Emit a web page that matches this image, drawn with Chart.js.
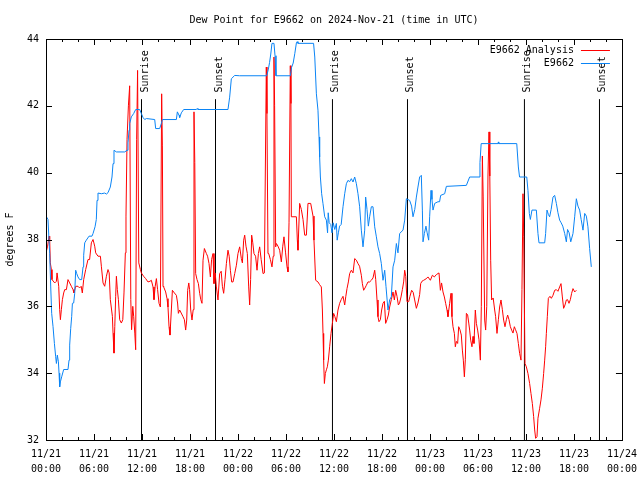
<!DOCTYPE html>
<html>
<head>
<meta charset="utf-8">
<title>Dew Point for E9662</title>
<script src="https://cdn.jsdelivr.net/npm/chart.js@4.4.1/dist/chart.umd.min.js"></script>
<style>
  html, body { margin: 0; padding: 0; background: #fff; }
  #wrap { width: 640px; height: 480px; }
</style>
</head>
<body>
<div id="wrap"><canvas id="dewChart" width="640" height="480"></canvas></div>
<script>
// hours since 2024-11-21 00:00 UTC, dew point in degrees F
const analysisPoints = [
  [0.00,37.6],[0.2,37.8],[0.38,38.1],[0.46,38.0],[0.54,37.3],[0.67,37.1],[0.75,36.8],[1.09,36.7],[1.3,36.75],[1.38,37.0],
  [1.5,37.0],[1.59,36.6],[1.71,35.9],[1.8,35.6],[1.92,35.9],[2.05,36.2],[2.21,36.4],[2.34,36.5],[2.55,36.5],[2.75,36.8],
  [2.96,36.7],[3.17,36.6],[3.38,36.5],[3.5,36.4],[3.71,36.6],[4.0,36.6],[4.2,36.55],[4.4,36.6],[4.54,36.4],[4.71,36.8],
  [4.96,37.1],[5.25,37.4],[5.45,37.4],[5.67,37.9],[5.88,38.0],[6.09,37.8],[6.21,37.6],[6.5,37.5],[6.8,37.5],[6.92,37.2],
  [7.13,36.7],[7.34,36.6],[7.55,36.9],[7.75,37.1],[7.9,37.0],[8.04,36.2],[8.3,35.7],[8.38,35.2],[8.5,34.6],[8.6,35.4],
  [8.71,36.3],[8.8,36.9],[8.92,36.5],[9.05,36.2],[9.21,35.6],[9.42,35.5],[9.6,35.6],[9.75,36.4],[9.92,37.6],[10.0,38.7],
  [10.13,41.0],[10.3,42.0],[10.46,42.6],[10.6,36.2],[10.7,35.3],[10.85,36.0],[10.96,35.7],[11.1,35.2],[11.21,34.7],[11.33,41.0],
  [11.45,43.06],[11.6,37.3],[11.8,37.1],[11.92,37.0],[12.2,36.9],[12.46,36.83],[12.75,36.73],[13.0,36.75],[13.17,36.78],[13.38,36.58],
  [13.5,36.2],[13.65,36.6],[13.8,36.83],[13.95,36.5],[14.13,36.09],[14.3,35.98],[14.46,42.36],[14.55,40.8],[14.63,36.6],[14.71,36.58],
  [14.96,36.43],[15.13,36.23],[15.25,35.98],[15.38,35.39],[15.5,35.14],[15.67,35.89],[15.8,36.48],[16.05,36.4],[16.3,36.33],[16.45,36.1],
  [16.55,35.79],[16.71,35.89],[16.9,35.8],[17.13,35.69],[17.3,35.6],[17.46,35.29],[17.59,35.59],[17.71,36.48],[17.85,36.7],[17.95,36.5],
  [18.09,35.89],[18.25,35.59],[18.4,35.9],[18.5,41.82],[18.6,40.3],[18.71,36.98],[18.88,36.8],[19.05,36.68],[19.21,36.39],[19.35,36.2],
  [19.5,36.09],[19.63,37.38],[19.8,37.73],[20.05,37.58],[20.2,37.5],[20.38,37.28],[20.55,36.88],[20.7,37.4],[20.88,37.58],[21.0,36.68],
  [21.15,37.0],[21.3,36.58],[21.5,36.19],[21.71,36.98],[21.9,37.05],[22.05,36.6],[22.21,36.39],[22.38,36.8],[22.55,37.28],[22.75,37.68],
  [22.9,37.5],[23.05,37.08],[23.21,36.73],[23.38,36.73],[23.59,36.98],[23.8,37.23],[24.0,37.58],[24.21,37.78],[24.42,37.43],[24.55,37.3],
  [24.71,37.98],[24.84,38.13],[25.0,37.8],[25.17,37.58],[25.34,36.58],[25.46,36.04],[25.58,36.8],[25.71,38.13],[25.85,37.9],[26.0,37.58],
  [26.2,37.5],[26.38,37.08],[26.55,37.58],[26.71,37.78],[26.9,37.4],[27.13,36.98],[27.3,37.0],[27.54,43.16],[27.62,41.77],[27.75,37.58],
  [27.84,37.58],[28.05,37.4],[28.25,37.18],[28.4,37.5],[28.5,43.46],[28.58,42.0],[28.71,37.78],[28.8,37.88],[29.0,37.8],[29.21,37.68],
  [29.42,37.33],[29.6,37.8],[29.75,38.08],[29.95,37.6],[30.13,37.18],[30.25,37.03],[30.38,38.5],[30.54,43.2],[30.62,42.07],[30.67,38.68],
  [31.3,38.68],[31.42,37.98],[31.5,37.68],[31.71,39.08],[31.92,38.9],[32.13,38.6],[32.34,38.13],[32.55,38.13],[32.75,39.08],[33.09,39.08],
  [33.38,38.7],[33.5,37.98],[33.71,36.78],[34.0,36.73],[34.2,36.65],[34.42,36.58],[34.55,35.89],[34.63,35.19],[34.71,34.39],[34.8,33.69],
  [34.92,33.99],[35.05,34.1],[35.17,34.19],[35.3,34.39],[35.46,34.79],[35.63,35.19],[35.8,35.49],[35.96,35.79],[36.1,35.7],[36.3,35.54],
  [36.5,35.89],[36.71,36.09],[36.9,36.2],[37.13,36.3],[37.34,36.04],[37.48,36.3],[37.63,36.53],[37.8,36.73],[37.96,36.98],[38.17,37.08],
  [38.38,37.0],[38.59,37.43],[38.8,37.38],[39.0,37.28],[39.2,37.2],[39.42,36.93],[39.55,36.68],[39.71,36.48],[39.88,36.55],[40.05,36.63],
  [40.25,36.73],[40.46,36.73],[40.67,36.78],[40.88,36.85],[41.09,37.08],[41.22,36.8],[41.38,36.19],[41.5,35.69],[41.63,35.54],[41.8,35.6],
  [41.96,35.89],[42.13,36.09],[42.3,36.15],[42.46,35.49],[42.63,35.6],[42.8,35.74],[42.96,35.98],[43.17,36.2],[43.38,36.43],[43.55,36.19],
  [43.71,36.48],[43.88,36.3],[44.05,36.04],[44.2,36.1],[44.38,36.28],[44.55,36.5],[44.71,36.73],[44.84,37.08],[44.97,36.9],[45.13,36.14],
  [45.34,36.14],[45.5,36.3],[45.71,36.48],[45.9,36.42],[46.09,36.19],[46.3,35.94],[46.5,36.1],[46.71,36.35],[46.84,36.68],[47.0,36.75],
  [47.21,36.78],[47.5,36.82],[47.75,36.88],[48.05,36.78],[48.3,36.93],[48.55,36.88],[48.8,36.95],[49.13,37.0],[49.3,36.48],[49.45,36.7],
  [49.63,36.43],[49.8,36.28],[49.96,36.09],[50.13,35.89],[50.25,35.69],[50.46,36.09],[50.63,36.39],[50.75,35.69],[50.88,35.39],[51.05,35.19],
  [51.17,34.79],[51.3,34.95],[51.46,34.89],[51.59,35.39],[51.75,35.3],[51.92,35.14],[52.05,34.69],[52.17,34.39],[52.3,33.89],[52.42,34.4],
  [52.55,35.79],[52.71,35.74],[52.85,35.5],[52.96,35.29],[53.09,34.99],[53.25,34.79],[53.38,35.1],[53.5,34.89],[53.67,35.89],[53.8,35.49],
  [53.96,35.29],[54.13,35.0],[54.3,34.39],[54.42,36.0],[54.55,40.5],[54.65,39.3],[54.84,35.59],[54.96,35.29],[55.1,36.0],[55.25,39.9],
  [55.38,41.22],[55.48,39.9],[55.59,37.38],[55.71,36.19],[55.9,36.25],[56.09,35.89],[56.21,35.69],[56.38,35.19],[56.55,35.6],[56.71,35.98],
  [56.88,36.19],[57.05,35.9],[57.21,35.59],[57.38,35.39],[57.55,35.6],[57.71,35.74],[57.88,35.6],[58.05,35.39],[58.21,35.29],[58.38,35.2],
  [58.55,35.39],[58.7,35.3],[58.88,35.19],[59.05,34.89],[59.21,34.59],[59.38,34.39],[59.5,36.5],[59.63,39.37],[59.72,38.08],[59.88,34.29],
  [60.05,34.19],[60.25,33.99],[60.46,33.69],[60.63,33.39],[60.8,33.09],[60.96,32.7],[61.09,32.3],[61.21,32.05],[61.38,32.1],[61.5,32.65],
  [61.71,32.95],[61.88,33.2],[62.05,33.55],[62.21,33.99],[62.34,34.39],[62.46,34.79],[62.55,35.19],[62.67,35.69],[62.8,36.24],[63.0,36.3],
  [63.17,36.24],[63.38,36.33],[63.59,36.48],[63.8,36.5],[64.0,36.45],[64.21,36.58],[64.38,36.68],[64.55,36.28],[64.71,35.94],[64.88,36.04],
  [65.05,36.19],[65.2,36.2],[65.38,36.09],[65.55,36.2],[65.71,36.39],[65.88,36.53],[66.09,36.43],[66.3,36.48]
];

const stationPoints = [
  [0.0,38.7],[0.25,38.6],[0.46,37.58],[0.59,36.58],[0.71,35.79],[0.88,35.39],[1.05,34.89],[1.21,34.49],[1.3,34.29],[1.42,34.54],
  [1.55,34.34],[1.63,34.0],[1.71,33.59],[1.8,33.74],[1.96,33.89],[2.21,34.11],[2.75,34.11],[2.88,34.39],[2.96,34.84],[3.09,35.34],
  [3.21,35.69],[3.3,36.09],[3.46,36.1],[3.59,36.39],[3.71,37.08],[3.84,36.98],[4.0,36.88],[4.21,36.8],[4.46,36.8],[4.63,37.18],
  [4.71,37.53],[4.84,37.9],[5.04,37.98],[5.38,38.1],[5.75,38.1],[5.88,38.18],[6.13,38.38],[6.29,38.6],[6.38,39.17],[6.5,39.39],
  [6.92,39.37],[7.34,39.39],[7.55,39.36],[7.75,39.4],[8.04,39.57],[8.25,39.87],[8.38,40.27],[8.5,40.67],[8.8,40.62],[9.84,40.62],
  [10.13,40.67],[10.25,40.89],[10.38,41.27],[10.46,41.47],[10.67,41.67],[10.96,41.77],[11.21,41.89],[11.71,41.89],[11.92,41.77],[12.13,41.65],
  [12.34,41.59],[12.55,41.62],[13.59,41.59],[13.71,41.32],[14.21,41.32],[14.42,41.47],[14.55,41.59],[16.3,41.59],[16.42,41.82],[16.63,41.72],
  [16.71,41.65],[16.92,41.79],[17.21,41.89],[18.8,41.89],[18.9,41.92],[19.0,41.89],[22.75,41.89],[22.96,42.26],[23.17,42.81],[23.59,42.91],
  [24.2,42.9],[27.6,42.9],[27.8,43.1],[27.95,43.3],[28.1,43.55],[28.25,43.87],[28.5,43.87],[28.63,43.5],[28.75,42.9],[30.55,42.9],
  [30.7,43.15],[30.9,43.28],[31.1,43.56],[31.3,43.88],[31.4,43.92],[31.5,43.87],[33.45,43.87],[33.6,43.46],[33.8,42.36],[34.0,41.87],
  [34.13,41.07],[34.21,40.47],[34.3,39.87],[34.46,39.37],[34.63,39.07],[34.84,38.68],[35.05,38.58],[35.2,38.2],[35.28,38.8],[35.4,38.5],
  [35.6,38.45],[35.75,38.2],[35.9,38.5],[36.1,38.3],[36.3,38.48],[36.4,37.98],[36.55,38.2],[36.7,38.4],[36.9,38.45],[37.13,38.98],
  [37.34,39.37],[37.55,39.67],[37.75,39.77],[37.96,39.73],[38.17,39.82],[38.38,39.72],[38.59,39.87],[38.8,39.67],[39.0,39.37],[39.21,38.98],
  [39.42,38.28],[39.63,37.78],[39.84,38.28],[39.96,39.27],[40.13,38.9],[40.3,38.4],[40.46,38.68],[40.67,38.98],[40.88,38.98],[41.09,38.38],
  [41.3,38.08],[41.5,37.78],[41.71,37.58],[41.92,37.28],[42.13,36.78],[42.34,37.08],[42.5,36.6],[42.75,35.89],[42.96,36.19],[43.17,36.29],
  [43.38,37.18],[43.59,37.38],[43.8,37.88],[44.0,37.6],[44.21,38.18],[44.63,38.28],[44.84,38.58],[45.05,39.22],[45.46,39.17],[45.7,39.0],
  [45.88,38.68],[46.1,38.9],[46.3,39.27],[46.5,39.57],[46.71,39.87],[46.92,39.92],[47.05,38.88],[47.13,37.93],[47.3,38.18],[47.5,38.4],
  [47.65,38.2],[47.84,37.98],[47.96,38.68],[48.13,39.47],[48.25,39.2],[48.38,38.88],[48.59,39.08],[49.0,39.13],[49.2,39.13],[49.34,39.32],
  [49.84,39.37],[50.05,39.59],[52.55,39.62],[52.96,39.87],[54.13,39.87],[54.25,40.3],[54.4,40.87],[56.5,40.87],[56.55,40.92],[56.6,40.87],
  [58.85,40.87],[59.05,40.17],[59.2,39.87],[60.1,39.87],[60.25,39.47],[60.42,38.78],[60.55,38.6],[60.75,38.88],[61.3,38.88],[61.5,38.18],
  [61.63,37.9],[62.34,37.9],[62.46,38.18],[62.63,38.88],[62.8,38.75],[62.96,38.68],[63.15,38.9],[63.38,39.27],[63.59,39.32],[63.8,39.08],
  [64.0,38.8],[64.21,38.58],[64.4,38.5],[64.6,38.4],[64.84,38.18],[65.05,37.93],[65.2,38.3],[65.4,38.2],[65.6,37.93],[65.88,38.18],
  [66.09,38.68],[66.3,39.22],[66.5,39.0],[66.71,38.88],[66.9,38.6],[67.13,38.28],[67.34,38.78],[67.55,38.7],[67.75,38.38],[67.96,37.73],
  [68.17,37.18]
];

const sunHours = [11.94, 21.19, 35.81, 45.19, 59.81, 69.19];
const sunLabels = ['Sunrise', 'Sunset', 'Sunrise', 'Sunset', 'Sunrise', 'Sunset'];
const sunLineTop = 42.2;
const sunLabelStart = 42.4;

const startDay = 21;
const titleText = 'Dew Point for E9662 on 2024-Nov-21 (time in UTC)';
const FONT = '"DejaVu Sans Mono", "Liberation Mono", monospace';

function pad2(n) {
  return String(n).padStart(2, '0');
}

function xTickLabel(value) {
  if (value % 6 !== 0) return '';
  const day = startDay + Math.floor(value / 24);
  return ['11/' + day, pad2(value % 24) + ':00'];
}

// vertical sunrise / sunset markers, broken with null gaps
const sunSegments = [];
sunHours.forEach((h) => {
  sunSegments.push({ x: h, y: 32 }, { x: h, y: sunLineTop }, { x: h, y: null });
});

// gnuplot-like frame: border, inward ticks, title, labels, key
const gnuplotFrame = {
  id: 'gnuplotFrame',
  afterDraw(chart) {
    const { ctx, chartArea: area, scales } = chart;
    const xs = scales.x;
    const ys = scales.y;
    ctx.save();
    ctx.strokeStyle = '#000';
    ctx.lineWidth = 1;
    ctx.strokeRect(Math.round(area.left) + 0.5, Math.round(area.top) + 0.5,
      Math.round(area.right - area.left), Math.round(area.bottom - area.top));

    ctx.beginPath();
    xs.ticks.forEach((t) => {
      const px = Math.round(xs.getPixelForValue(t.value)) + 0.5;
      const len = t.value % 6 === 0 ? 6 : 3;
      ctx.moveTo(px, area.bottom);
      ctx.lineTo(px, area.bottom - len);
      ctx.moveTo(px, area.top);
      ctx.lineTo(px, area.top + len);
    });
    ys.ticks.forEach((t) => {
      const py = Math.round(ys.getPixelForValue(t.value)) + 0.5;
      ctx.moveTo(area.left, py);
      ctx.lineTo(area.left + 6, py);
      ctx.moveTo(area.right, py);
      ctx.lineTo(area.right - 6, py);
    });
    ctx.stroke();

    ctx.fillStyle = '#000';
    ctx.font = '10px ' + FONT;
    ctx.textAlign = 'center';
    ctx.textBaseline = 'middle';
    ctx.fillText(titleText, (area.left + area.right) / 2, 20);

    // sunrise / sunset labels
    ctx.textAlign = 'left';
    ctx.textBaseline = 'alphabetic';
    sunHours.forEach((h, i) => {
      const px = Math.round(xs.getPixelForValue(h));
      const py = ys.getPixelForValue(sunLabelStart);
      ctx.save();
      ctx.translate(px + 6, py);
      ctx.rotate(-Math.PI / 2);
      ctx.fillText(sunLabels[i], 0, 0);
      ctx.restore();
    });

    // key, top right
    const keyItems = chart.data.datasets.filter((d) => d.inKey);
    keyItems.forEach((d, i) => {
      const y = Math.round(area.top + 11 + i * 12.5) + 0.5;
      ctx.textAlign = 'right';
      ctx.textBaseline = 'middle';
      ctx.fillStyle = '#000';
      ctx.fillText(d.label, area.right - 48, y);
      ctx.strokeStyle = d.borderColor;
      ctx.beginPath();
      ctx.moveTo(area.right - 41, y);
      ctx.lineTo(area.right - 12, y);
      ctx.stroke();
    });
    ctx.restore();
  }
};

const ctx = document.getElementById('dewChart').getContext('2d');
const chart = new Chart(ctx, {
  type: 'line',
  data: {
    datasets: [
      {
        label: 'E9662 Analysis',
        inKey: true,
        data: analysisPoints.map(([x, y]) => ({ x, y })),
        borderColor: '#ff0000',
        borderWidth: 1,
        pointRadius: 0,
        tension: 0,
        fill: false,
        order: 2
      },
      {
        label: 'E9662',
        inKey: true,
        data: stationPoints.map(([x, y]) => ({ x, y })),
        borderColor: '#0a84f5',
        borderWidth: 1,
        pointRadius: 0,
        tension: 0,
        fill: false,
        order: 1
      },
      {
        label: 'sun',
        inKey: false,
        data: sunSegments,
        borderColor: '#000000',
        borderWidth: 1,
        pointRadius: 0,
        spanGaps: false,
        fill: false,
        order: 3
      }
    ]
  },
  options: {
    responsive: false,
    animation: false,
    events: [],
    layout: { padding: { top: 39, right: 18, bottom: 0, left: 0 } },
    plugins: {
      legend: { display: false },
      title: { display: false },
      tooltip: { enabled: false }
    },
    scales: {
      x: {
        type: 'linear',
        min: 0,
        max: 72,
        grid: { display: false, drawTicks: true, tickLength: 4 },
        border: { display: false },
        ticks: {
          stepSize: 2,
          autoSkip: false,
          maxRotation: 0,
          padding: 3,
          color: '#000',
          font: { family: FONT, size: 10, lineHeight: 1.5 },
          callback: (value) => xTickLabel(value)
        },
        afterFit: (scale) => { scale.height = 40; }
      },
      y: {
        min: 32,
        max: 44,
        grid: { display: false, drawTicks: true, tickLength: 4 },
        border: { display: false },
        ticks: {
          stepSize: 2,
          padding: 3,
          color: '#000',
          font: { family: FONT, size: 10 }
        },
        title: {
          display: true,
          text: 'degrees F',
          color: '#000',
          font: { family: FONT, size: 10 },
          padding: { top: 4, bottom: 0 }
        },
        afterFit: (scale) => { scale.width = 46; }
      }
    }
  },
  plugins: [gnuplotFrame]
});
</script>
</body>
</html>
